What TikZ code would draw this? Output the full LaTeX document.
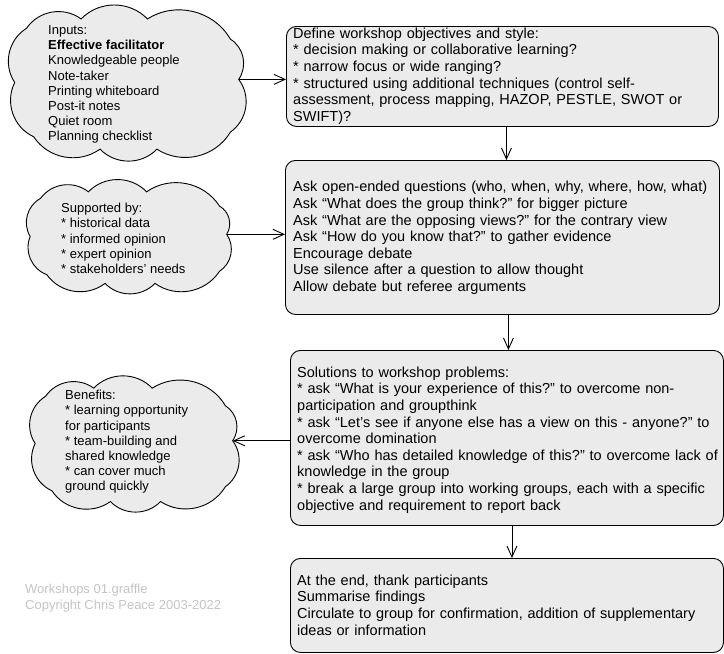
\documentclass[tikz,border=0pt]{standalone}
\usepackage{fontspec}
\setmainfont{Liberation Sans}
\usetikzlibrary{arrows.meta}
\definecolor{boxfill}{HTML}{EBEBEB}
\definecolor{wmgray}{HTML}{C4C4C4}
\newcommand{\drawcloudshape}[5]{%
  \begin{scope}[shift={(#1,#2)}, x=#3pt, y=-#4pt]
    \draw[cloudline] (0.07,0.15) to[puff] (0.30,0.09)
      to[puff] (0.58,0.09) to[puff] (0.93,0.22)
      to[puff] (0.965,0.48) to[puff] (0.93,0.82)
      to[puff] (0.62,0.93) to[puff] (0.38,0.93)
      to[puff] (0.10,0.85) to[puff] (0.02,0.50)
      to[puff] cycle;
    \coordinate (#5) at (0.965,0.48);
  \end{scope}}
\begin{document}
\frenchspacing
\begin{tikzpicture}[x=1pt,y=-1pt,
  box/.style={draw=black, line width=0.9pt, fill=boxfill, rounded corners=10pt,
    anchor=north west, inner sep=0pt},
  boxtxt/.style={anchor=west, align=left, text width=445pt, inner sep=0pt,
    font=\fontsize{14.5}{16.6}\selectfont},
  cloudline/.style={draw=black, line width=0.9pt, fill=boxfill},
  puff/.style={bend left=46},
  cloudtxt/.style={anchor=west, align=left, inner sep=0pt,
    font=\fontsize{13}{15.2}\selectfont},
  arr/.style={draw=black, line width=0.9pt, -{Straight Barb[length=11pt,width=10pt]}},
  wm/.style={anchor=west, align=left, inner sep=0pt, text=wmgray,
    font=\fontsize{13}{16}\selectfont}
]
\useasboundingbox (0,0) rectangle (724,654);

% boxes
\node[box, minimum width=432pt, minimum height=100pt] (b1) at (286,26) {};
\node[box, minimum width=434pt, minimum height=154pt] (b2) at (285,160) {};
\node[box, minimum width=433pt, minimum height=175pt] (b3) at (290,350) {};
\node[box, minimum width=433pt, minimum height=94pt] (b4) at (290,558) {};

\node[boxtxt] (t1) at (293,76) {Define workshop objectives and style:\\{}%
* decision making or collaborative learning?\\{}%
* narrow focus or wide ranging?\\{}%
* structured using additional techniques (control self-\\
assessment, process mapping, HAZOP, PESTLE, SWOT or\\
SWIFT)?};

\node[boxtxt] (t2) at (293,238) {Ask open-ended questions (who, when, why, where, how, what)\\
Ask “What does the group think?” for bigger picture\\
Ask “What are the opposing views?” for the contrary view\\
Ask “How do you know that?” to gather evidence\\
Encourage debate\\
Use silence after a question to allow thought\\
Allow debate but referee arguments};

\node[boxtxt] (t3) at (297,440) {Solutions to workshop problems:\\{}%
* ask “What is your experience of this?” to overcome non-\\
participation and groupthink\\{}%
* ask “Let’s see if anyone else has a view on this - anyone?” to\\
overcome domination\\{}%
* ask “Who has detailed knowledge of this?” to overcome lack of\\
knowledge in the group\\{}%
* break a large group into working groups, each with a specific\\
objective and requirement to report back};

\node[boxtxt] (t4) at (297,605) {At the end, thank participants\\
Summarise findings\\
Circulate to group for confirmation, addition of supplementary\\
ideas or information};

% clouds
\drawcloudshape{10}{5}{237}{155}{c1e}
\drawcloudshape{26}{182}{208}{109}{c2e}
\drawcloudshape{31}{376}{209}{135}{c3e}

\node[cloudtxt] (ct1) at (48,84.5) {Inputs:\\
\textbf{Effective facilitator}\\
Knowledgeable people\\
Note-taker\\
Printing whiteboard\\
Post-it notes\\
Quiet room\\
Planning checklist};

\node[cloudtxt] (ct2) at (61,238.5) {Supported by:\\{}%
* historical data\\{}%
* informed opinion\\{}%
* expert opinion\\{}%
* stakeholders’ needs};

\node[cloudtxt] (ct3) at (65,442) {Benefits:\\{}%
* learning opportunity\\
for participants\\{}%
* team-building and\\
shared knowledge\\{}%
* can cover much\\
ground quickly};

% watermark
\node[wm] (w) at (25,598) {Workshops 01.graffle\\Copyright Chris Peace 2003-2022};

% connectors
\draw[arr] ([xshift=4pt]b1.south) -- ([xshift=4pt]b1.south |- b2.north);
\draw[arr] ([xshift=6pt]b2.south) -- ([xshift=6pt]b2.south |- b3.north);
\draw[arr] ([xshift=5pt]b3.south) -- ([xshift=5pt]b3.south |- b4.north);
\draw[arr] (c1e) -- (c1e -| b1.west);
\draw[arr] (c2e) -- (c2e -| b2.west);
\draw[arr] (c3e -| b3.west) -- (c3e);
\end{tikzpicture}
\end{document}
